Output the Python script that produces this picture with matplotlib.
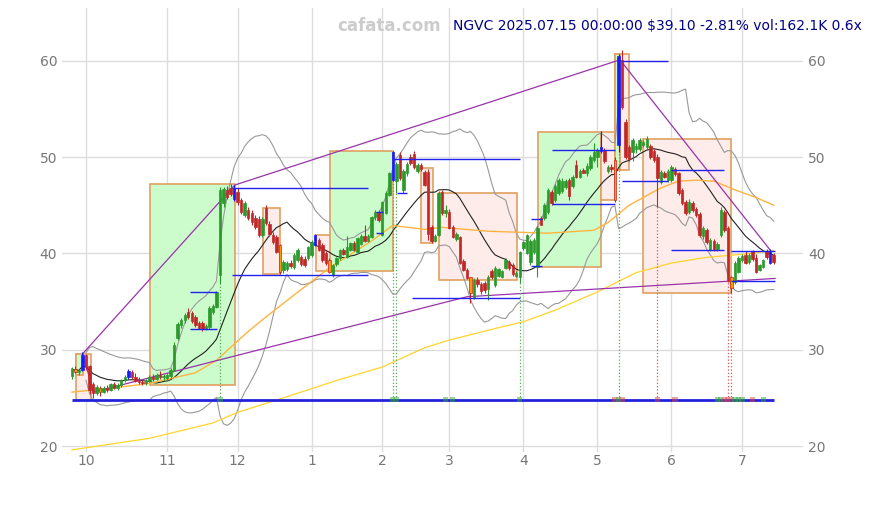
import numpy as np
import pandas as pd
import matplotlib
matplotlib.use("Agg")
import matplotlib.pyplot as plt
from matplotlib.patches import Rectangle

# --- daily bars (NGVC, 2024-09-25 .. 2025-07-15) ---
holidays = ['2024-11-28', '2024-12-25', '2025-01-01', '2025-01-09', '2025-01-20',
            '2025-02-17', '2025-04-18', '2025-05-26', '2025-06-19', '2025-07-04']
dates = pd.bdate_range('2024-09-25', '2025-07-15')
dates = dates[~dates.isin(pd.to_datetime(holidays))]

opens = [27.3, 28.0, 27.7, 27.9,
         29.4, 28.3, 26.4, 25.5, 26.0, 25.6, 26.0, 25.8, 26.4, 26.0, 26.3, 26.9, 27.2, 27.7, 27.2, 26.8, 26.6, 26.5, 26.8, 27.2, 27.0, 27.4, 27.2,
         27.1, 27.3, 27.9, 31.2, 32.6, 33.1, 33.9, 33.8, 33.4, 32.8, 32.8, 32.2, 32.4, 33.9, 34.4, 37.8, 45.2, 46.6, 46.8, 45.6,
         46.4, 45.5, 44.0, 44.5, 44.2, 43.7, 43.6, 41.9, 44.7, 43.1, 41.9, 41.7, 40.9, 38.3, 38.4, 39.0, 38.6, 39.3, 39.6, 39.4, 39.5,
         39.8, 41.9, 41.4, 40.9, 40.0, 39.3, 37.8, 38.9, 39.5, 40.4, 39.6, 40.4, 41.1, 40.1, 41.0, 41.8, 41.3, 41.7, 43.8, 44.3,
         41.9, 44.2, 46.1, 47.6, 47.5, 50.2, 46.6, 48.3, 50.0, 50.3, 48.6, 49.2, 48.5, 48.5, 42.7, 41.3, 41.9, 46.4, 44.2,
         44.3, 42.7, 41.5, 41.7, 39.2, 38.3, 37.5, 35.5, 37.2, 36.8, 36.9, 36.3, 38.2, 36.7, 37.7, 37.6, 38.5, 39.1, 38.8, 37.7, 37.5,
         40.6, 40.0, 39.1, 40.1, 38.6, 43.7, 43.7, 44.3, 46.4, 45.5, 46.3, 46.5, 46.9, 47.6, 47.0, 49.2, 47.9, 48.7, 48.3, 48.9, 49.7,
         50.0, 51.0, 50.7, 48.6, 49.0, 49.7, 51.3, 60.1, 53.6, 51.0, 50.5, 50.8, 50.8, 51.3, 51.0, 51.2, 50.6, 50.0, 47.4, 48.4, 47.6,
         47.6, 48.8, 48.3, 46.6, 45.3, 44.3, 45.2, 44.6, 44.1, 41.8, 42.4, 40.4, 41.3, 40.5, 41.9, 44.3, 42.6, 37.5, 37.0, 38.1,
         39.3, 39.8, 39.1, 40.2, 39.5, 38.3, 38.6, 40.3, 39.0, 39.8]
highs = [28.2, 28.3, 28.0, 29.8,
         29.6, 28.4, 26.6, 26.3, 26.2, 26.2, 26.3, 26.5, 26.6, 26.5, 27.0, 27.4, 28.0, 27.9, 27.6, 27.2, 26.9, 27.0, 27.4, 27.5, 27.6, 27.8, 27.5,
         27.6, 28.1, 30.8, 32.9, 33.3, 33.8, 34.3, 34.0, 33.6, 33.0, 33.0, 32.7, 34.5, 34.7, 36.1, 46.9, 46.9, 47.0, 47.2, 47.1,
         46.8, 45.8, 45.4, 44.8, 44.5, 44.0, 43.9, 43.8, 45.0, 43.4, 42.2, 41.9, 41.0, 39.3, 39.2, 39.3, 40.0, 40.6, 39.8, 39.7, 40.8,
         41.4, 42.0, 41.6, 41.1, 40.2, 39.5, 38.9, 39.6, 40.5, 40.6, 41.8, 41.2, 41.3, 41.7, 42.0, 43.0, 42.0, 43.9, 44.5, 44.5,
         45.4, 46.5, 48.5, 50.6, 49.5, 50.5, 48.8, 49.5, 50.3, 50.6, 49.4, 49.4, 48.7, 48.8, 43.0, 42.0, 46.5, 46.6, 45.0,
         44.6, 42.9, 42.2, 41.8, 39.4, 38.5, 37.6, 37.4, 37.5, 37.0, 37.1, 37.8, 38.4, 38.7, 38.5, 38.3, 39.5, 39.3, 39.0, 38.2, 40.3,
         41.3, 42.0, 41.5, 41.6, 42.8, 43.9, 45.2, 46.8, 46.6, 47.2, 47.8, 47.8, 47.7, 47.8, 48.1, 49.7, 48.8, 48.9, 49.4, 50.2, 51.5,
         50.9, 52.7, 50.9, 49.2, 49.3, 50.0, 60.7, 61.1, 54.0, 51.3, 52.0, 51.5, 52.0, 51.8, 52.2, 51.4, 50.8, 50.3, 48.7, 48.6, 48.8,
         49.2, 49.0, 48.5, 46.8, 45.5, 45.6, 45.4, 44.8, 44.3, 42.8, 42.6, 41.6, 41.5, 41.2, 44.8, 44.5, 42.8, 37.7, 39.2, 39.7,
         39.9, 40.2, 40.0, 40.4, 39.9, 38.9, 39.4, 40.5, 40.5, 40.0]
lows = [27.0, 27.6, 27.4, 27.8,
        27.9, 25.4, 25.0, 25.3, 25.2, 25.5, 25.6, 25.7, 25.9, 25.8, 26.1, 26.6, 27.0, 27.0, 26.6, 26.4, 26.3, 26.3, 26.6, 26.8, 26.9, 27.0, 26.9,
        26.8, 27.1, 27.8, 31.0, 32.3, 32.8, 33.2, 32.8, 32.4, 32.1, 31.9, 32.0, 32.2, 33.7, 34.3, 36.8, 44.8, 45.6, 46.0, 45.4,
        45.0, 44.1, 43.8, 43.5, 43.0, 42.5, 41.7, 41.7, 43.0, 41.8, 41.0, 40.0, 37.9, 38.0, 38.2, 38.5, 38.4, 39.1, 38.7, 38.6, 39.3,
        39.6, 40.8, 40.2, 39.1, 38.8, 38.0, 37.6, 38.7, 39.3, 39.8, 39.5, 40.2, 40.3, 40.0, 40.9, 41.2, 41.2, 41.6, 43.5, 43.3,
        41.8, 44.1, 46.0, 47.5, 46.3, 47.6, 46.3, 48.0, 49.2, 48.8, 48.4, 48.6, 47.0, 41.4, 41.1, 41.2, 41.8, 44.0, 43.8,
        42.5, 41.6, 41.3, 38.9, 38.2, 37.3, 34.8, 35.3, 36.5, 35.8, 35.9, 35.2, 37.3, 36.5, 37.5, 37.4, 38.4, 38.3, 37.7, 37.6, 36.9,
        40.4, 39.9, 38.8, 39.9, 37.6, 42.9, 43.5, 44.1, 45.0, 45.3, 46.1, 46.3, 46.7, 45.5, 46.8, 47.8, 47.8, 48.3, 48.0, 48.7, 49.5,
        49.0, 50.4, 49.4, 48.3, 48.5, 45.3, 50.5, 55.0, 49.8, 49.6, 49.6, 50.4, 50.6, 51.0, 50.7, 49.8, 49.5, 44.8, 47.2, 47.8, 47.4,
        47.4, 48.0, 46.1, 45.0, 44.0, 44.1, 44.3, 43.8, 41.7, 41.5, 41.0, 40.2, 40.3, 40.3, 41.7, 42.2, 37.0, 35.9, 36.8, 38.0,
        39.1, 38.9, 38.9, 39.2, 38.0, 38.2, 38.5, 39.4, 38.9, 38.9]
closes = [28.0, 27.7, 27.9, 29.5,
          28.2, 25.8, 25.5, 26.1, 25.6, 26.0, 25.8, 26.4, 26.0, 26.3, 26.9, 27.2, 27.8, 27.2, 26.8, 26.6, 26.5, 26.8, 27.2, 27.0, 27.4, 27.2, 27.3,
          27.4, 27.9, 30.5, 32.7, 33.1, 33.6, 33.4, 33.0, 32.6, 32.3, 32.1, 32.5, 34.3, 34.5, 36.0, 46.6, 46.7, 45.9, 46.2, 46.8,
          45.3, 44.3, 45.2, 43.7, 43.3, 42.7, 41.9, 43.6, 43.2, 42.0, 41.2, 40.1, 38.1, 39.1, 39.0, 38.7, 39.8, 40.4, 38.9, 38.8, 40.7,
          41.2, 40.9, 40.4, 39.3, 39.0, 38.1, 38.8, 39.5, 40.4, 39.9, 40.7, 41.1, 40.4, 41.6, 41.8, 41.3, 41.8, 43.8, 44.3, 43.5,
          45.3, 46.3, 48.3, 50.5, 49.3, 47.8, 48.6, 49.3, 49.4, 49.0, 49.2, 48.8, 47.1, 42.0, 41.3, 41.8, 46.3, 44.2, 44.5,
          42.6, 41.7, 42.0, 39.0, 38.3, 37.4, 35.9, 37.2, 36.8, 36.1, 36.2, 37.6, 37.5, 38.5, 38.4, 38.2, 39.3, 38.5, 37.9, 38.0, 40.1,
          41.2, 41.9, 41.3, 41.4, 42.6, 43.0, 45.0, 46.6, 45.2, 47.0, 47.6, 47.5, 47.5, 46.0, 47.9, 47.9, 48.6, 48.4, 49.1, 50.0, 50.5,
          50.7, 50.6, 49.6, 49.0, 48.8, 45.5, 60.5, 55.2, 50.0, 49.8, 51.8, 51.2, 51.8, 51.6, 51.9, 50.0, 49.7, 47.8, 48.5, 47.9, 48.6,
          49.0, 48.2, 46.3, 45.2, 44.2, 45.3, 44.5, 44.0, 41.9, 42.6, 41.2, 41.4, 40.5, 41.0, 44.5, 42.4, 37.2, 36.4, 39.0, 39.5,
          39.7, 39.0, 39.8, 39.4, 38.1, 38.8, 39.3, 39.6, 40.23, 39.1]

# highlighted candles (bar index)
blue_bars = [3, 16, 46, 69, 91, 150, 155, 198]
orange_bars = [1, 8, 59, 73, 113, 154, 187]

# 50 / 200 day averages (bar index, price)
ma50_idx = [0, 11, 22, 35, 41, 50, 54, 62, 73, 85, 91, 100, 105, 118, 135, 148, 152, 158, 167, 172, 177, 182, 188, 194, 199]
ma50_val = [25.6, 26.0, 26.5, 27.6, 28.9, 31.9, 33.1, 35.4, 38.5, 41.3, 42.9, 42.5, 42.7, 42.3, 42.1, 42.4, 43.2, 45.0, 46.8, 47.5, 47.6, 47.5, 46.6, 45.8, 45.0]
ma200_idx = [0, 22, 40, 47, 60, 75, 88, 100, 107, 120, 128, 137, 149, 160, 170, 180, 190, 199]
ma200_val = [19.6, 20.8, 22.4, 23.5, 25.0, 26.8, 28.2, 30.2, 31.0, 32.2, 32.9, 34.1, 36.0, 38.0, 39.0, 39.6, 39.9, 40.3]

# boxes: (start bar, end bar, low, high, kind)
boxes = [(1.2, 5.5, 24.8, 29.6, 'down'), (1.2, 3.1, 27.4, 29.6, 'up'),
         (22.2, 46.3, 26.3, 47.2, 'up'), (54.3, 59.0, 37.9, 44.75, 'down'),
         (69.2, 73.4, 38.2, 41.9, 'down'), (73.2, 91.1, 38.2, 50.6, 'up'),
         (99.0, 102.3, 41.1, 48.9, 'down'), (104.1, 126.1, 37.2, 46.3, 'down'),
         (132.2, 150.1, 38.6, 52.6, 'up'), (150.1, 154.0, 45.5, 52.6, 'down'),
         (154.0, 158.0, 48.7, 60.7, 'down'), (154.0, 155.3, 48.7, 60.7, 'up'),
         (162.0, 186.9, 35.86, 51.85, 'down')]

# support / resistance segments: (start bar, end bar, price)
levels = [(33.4, 41.2, 36.0), (33.4, 41.2, 32.2), (45.3, 83.9, 46.8), (45.3, 83.9, 37.8),
          (86.2, 88.3, 44.3), (86.2, 88.3, 42.1), (91.1, 127.1, 49.8), (92.1, 94.9, 46.3),
          (96.3, 127.1, 35.4), (130.2, 133.2, 43.6), (130.2, 133.2, 38.7),
          (136.0, 154.0, 50.7), (136.0, 154.0, 45.1), (155.9, 169.1, 60.0), (155.9, 169.1, 47.5),
          (169.9, 185.0, 48.66), (169.9, 185.0, 40.35), (186.9, 199.4, 40.2), (186.9, 199.4, 37.1)]
baseline = 24.8

# zigzag trend lines (bar index, price)
upper_idx = [3.1, 46.2, 155.4, 198.1]
upper_val = [29.6, 47.1, 60.1, 40.3]
lower_idx = [3.1, 6.1, 112.0, 199.4]
lower_val = [29.6, 25.6, 35.5, 37.4]

# signals (bar index, buy/sell)
sig_idx = [42, 91, 92, 106, 108, 127, 154, 155, 156, 166, 171, 183, 184, 185, 186, 187, 188, 189, 190, 193, 196]
sig_buy = [1, 1, 1, 1, 1, 1, 0, 1, 0, 0, 0, 1, 1, 0, 0, 0, 1, 1, 1, 0, 1]
sig_lines = [42, 91, 92, 127, 155, 166, 186, 187]

o = np.array(opens); h = np.array(highs); l = np.array(lows); c = np.array(closes)
x = np.arange(len(c))
close_s = pd.Series(c)
ma20 = close_s.rolling(20, min_periods=1).mean()
sd20 = close_s.rolling(20, min_periods=5).std()

fig = plt.figure(figsize=(8.73, 5.05), dpi=100)
ax = fig.add_axes([62 / 873, 53 / 505, 741 / 873, 444 / 505])

# boxes
for x0, x1, lo, hi, kind in boxes:
    fc = '#ccfccc' if kind == 'up' else '#fdecea'
    ax.add_patch(Rectangle((x0, lo), x1 - x0, hi - lo, facecolor=fc,
                           edgecolor='#e0a060', lw=1.2, zorder=1))

# indicators
ax.plot(x, ma20 + 2 * sd20, color='#999999', lw=0.8, zorder=2)
ax.plot(x, ma20 - 2 * sd20, color='#999999', lw=0.8, zorder=2)
ax.plot(x, ma20, color='#222222', lw=0.8, zorder=2)
ax.plot(ma50_idx, ma50_val, color='#ffb340', lw=1.0, zorder=2)
ax.plot(ma200_idx, ma200_val, color='#ffd42a', lw=0.9, zorder=2)

# trend lines
ax.plot(upper_idx, upper_val, color='#9933aa', lw=0.9, zorder=3)
ax.plot(lower_idx, lower_val, color='#9933aa', lw=0.9, zorder=3)

# candles
up = c >= o
cols = np.where(up, '#2a9a2a', '#c02828')
cols = cols.astype(object)
face = cols.copy()
for i in orange_bars:
    face[i] = '#ff9900'
for i in blue_bars:
    cols[i] = '#1a1aff'
    face[i] = '#1a1aff'
ax.vlines(x, l, h, colors=list(cols), lw=0.8, zorder=4)
ax.bar(x, np.maximum(np.abs(c - o), 0.05), bottom=np.minimum(o, c), width=0.7,
       color=list(face), edgecolor=list(cols), lw=0.5, zorder=5)

# levels
for x0, x1, p in levels:
    ax.hlines(p, x0, x1, color='#2222ee', lw=1.0, zorder=6)
ax.hlines(baseline, 0, len(c) - 1, color='#2222dd', lw=2.0, zorder=6)

# signals
for i in sig_lines:
    b = sig_buy[sig_idx.index(i)]
    ax.vlines(i, baseline, l[i], colors='#55aa55' if b else '#dd5555',
              linestyles=':', lw=0.9, zorder=3)
ax.scatter(sig_idx, [baseline] * len(sig_idx), marker='s', s=14,
           c=['#33aa33' if b else '#dd4444' for b in sig_buy], alpha=0.5, zorder=7, lw=0)

# axes styling
month_pos = [i for i in range(1, len(dates)) if dates[i].month != dates[i - 1].month]
ax.set_xticks(month_pos)
ax.set_xticklabels([str(dates[i].month) for i in month_pos])
ax.set_yticks([20, 30, 40, 50, 60])
ax.set_xlim(-2.8, 207.3)
ax.set_ylim(19.38, 65.48)
ax.grid(True, color='#dddddd', lw=1)
ax.set_axisbelow(True)
for s in ax.spines.values():
    s.set_visible(False)
ax.tick_params(length=0, labelsize=10, colors='#777777', labelright=True)
ax.tick_params(axis='x', pad=1.5)

fig.text(389 / 873, 1 - 26 / 505, 'cafata.com', ha='center', va='center',
         fontsize=12, fontweight='bold', color='#cccccc')
fig.text(862 / 873, 1 - 26 / 505, r'NGVC 2025.07.15 00:00:00 \$39.10 -2.81% vol:162.1K 0.6x',
         ha='right', va='center', fontsize=10, color='#000088')

fig.savefig('out.png', dpi=100)
